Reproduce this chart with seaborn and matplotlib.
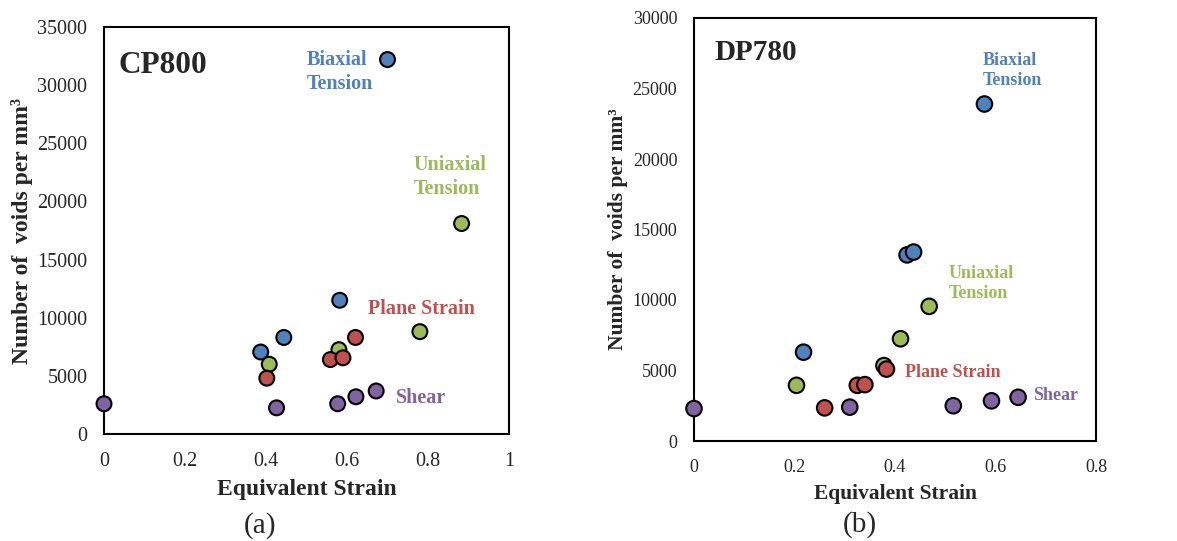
import pandas as pd
import matplotlib.pyplot as plt
import seaborn as sns

# CP800 data (equivalent strain, voids per mm^3)
cp_biaxial_x = [0.700, 0.582, 0.444, 0.387]
cp_biaxial_y = [32200, 11500, 8300, 7050]
cp_uniaxial_x = [0.883, 0.780, 0.580, 0.408]
cp_uniaxial_y = [18100, 8800, 7250, 6000]
cp_plane_x = [0.621, 0.559, 0.590, 0.402]
cp_plane_y = [8300, 6400, 6550, 4800]
cp_shear_x = [0.0, 0.426, 0.577, 0.622, 0.672]
cp_shear_y = [2600, 2250, 2600, 3200, 3700]

# DP780 data
dp_biaxial_x = [0.578, 0.424, 0.437, 0.218]
dp_biaxial_y = [23900, 13200, 13400, 6300]
dp_uniaxial_x = [0.468, 0.411, 0.378, 0.204]
dp_uniaxial_y = [9550, 7250, 5350, 3950]
dp_plane_x = [0.383, 0.325, 0.340, 0.260]
dp_plane_y = [5100, 3950, 4000, 2350]
dp_shear_x = [0.0, 0.310, 0.516, 0.592, 0.645]
dp_shear_y = [2300, 2400, 2500, 2850, 3100]

modes = ['Biaxial', 'Uniaxial', 'Plane', 'Shear']
colors = {'Biaxial': '#4F81BD', 'Uniaxial': '#9BBB59',
          'Plane': '#C0504D', 'Shear': '#8064A2'}


def make_frame(xs, ys):
    rows = []
    for mode, x, y in zip(modes, xs, ys):
        for a, b in zip(x, y):
            rows.append({'strain': a, 'voids': b, 'mode': mode})
    return pd.DataFrame(rows)


cp_df = make_frame([cp_biaxial_x, cp_uniaxial_x, cp_plane_x, cp_shear_x],
                   [cp_biaxial_y, cp_uniaxial_y, cp_plane_y, cp_shear_y])
dp_df = make_frame([dp_biaxial_x, dp_uniaxial_x, dp_plane_x, dp_shear_x],
                   [dp_biaxial_y, dp_uniaxial_y, dp_plane_y, dp_shear_y])

sns.set_style('white')
plt.rcParams['font.family'] = ['Liberation Serif', 'DejaVu Serif']

fig = plt.figure(figsize=(11.77, 5.41), dpi=100)
ax1 = fig.add_axes([104 / 1177, 107 / 541, 405 / 1177, 407 / 541])
ax2 = fig.add_axes([694 / 1177, 100 / 541, 402 / 1177, 423 / 541])


def draw_panel(ax, df, xmax, ymax, title, labels, fs, ylab_x):
    # fs: (ticks, axis labels, title, annotations, marker size)
    sns.scatterplot(data=df, x='strain', y='voids', hue='mode', palette=colors,
                    s=fs[4], edgecolor='black', linewidth=1.5, legend=False,
                    clip_on=False, zorder=3, ax=ax)
    ax.set_xlim(0, xmax)
    ax.set_ylim(0, ymax)
    xt = [round(i * 0.2, 1) for i in range(int(round(xmax / 0.2)) + 1)]
    ax.set_xticks(xt)
    ax.set_xticklabels([f'{v:g}' for v in xt])
    ax.set_yticks(range(0, ymax + 1, 5000))
    ax.tick_params(axis='both', length=0, labelsize=fs[0])
    ax.tick_params(axis='x', pad=13)
    ax.tick_params(axis='y', pad=12)
    for sp in ax.spines.values():
        sp.set_color('black')
        sp.set_linewidth(1.5)
    ax.set_xlabel('Equivalent Strain', fontsize=fs[1], fontweight='bold', labelpad=6)
    ax.set_ylabel('Number of  voids per mm³', fontsize=fs[1], fontweight='bold')
    ax.yaxis.set_label_coords(ylab_x, 0.5)
    ax.text(title[1], title[2], title[0], fontsize=fs[2], fontweight='bold',
            va='center', ha='left')
    for txt, x, y, mode in labels:
        ax.text(x, y, txt, color=colors[mode], fontsize=fs[3], fontweight='bold',
                va='center', ha='left', linespacing=1.25)


draw_panel(ax1, cp_df, 1, 35000, ('CP800', 0.037, 31700),
           [('Biaxial\nTension', 0.50, 31150, 'Biaxial'),
            ('Uniaxial\nTension', 0.764, 22100, 'Uniaxial'),
            ('Plane Strain', 0.651, 10720, 'Plane'),
            ('Shear', 0.721, 3070, 'Shear')],
           (14.5, 17, 22.5, 14.5, 115), -0.175)
draw_panel(ax2, dp_df, 0.8, 30000, ('DP780', 0.041, 27570),
           [('Biaxial\nTension', 0.575, 26300, 'Biaxial'),
            ('Uniaxial\nTension', 0.507, 11150, 'Uniaxial'),
            ('Plane Strain', 0.420, 4890, 'Plane'),
            ('Shear', 0.674, 3240, 'Shear')],
           (13, 15.5, 21, 13, 125), -0.164)

fig.text(260 / 1177, 1 - 526 / 541, '(a)', fontsize=21, ha='center', va='center')
fig.text(860 / 1177, 1 - 525 / 541, '(b)', fontsize=21, ha='center', va='center')

fig.savefig('out.png', dpi=100)
